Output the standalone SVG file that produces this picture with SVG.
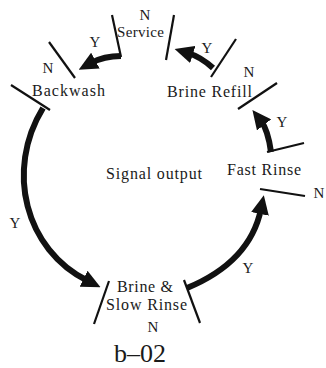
<svg xmlns="http://www.w3.org/2000/svg" width="326" height="368" viewBox="0 0 326 368">
<defs>
<style>
text{font-family:"Liberation Serif","Times New Roman",serif;fill:#1a1a1a}
.st{font-size:16px}
.lb{font-size:15px;text-anchor:middle}
.bd{stroke:#111;stroke-width:2.2;fill:none;stroke-linecap:butt}
.ar{stroke:#111;stroke-width:6;fill:none;marker-end:url(#ah)}
</style>
<marker id="ah" markerUnits="userSpaceOnUse" viewBox="0 0 19 18" refX="5" refY="9" markerWidth="19" markerHeight="18" orient="auto">
<path d="M0,0 L19,9 L0,18 z" fill="#111"/>
</marker>
</defs>
<rect width="326" height="368" fill="#fff"/>
<g id="service">
<line class="bd" x1="112" y1="15" x2="121" y2="57"/>
<line class="bd" x1="174" y1="15" x2="166" y2="60"/>
<text class="lb" x="145" y="20">N</text>
<text x="117" y="37" font-size="15" textLength="47" lengthAdjust="spacing">Service</text>
</g>
<g id="backwash">
<line class="bd" x1="49" y1="42" x2="75" y2="78"/>
<line class="bd" x1="11" y1="85" x2="50" y2="110"/>
<text class="lb" x="48" y="73">N</text>
<text class="st" x="32" y="96" textLength="73" lengthAdjust="spacing">Backwash</text>
</g>
<g id="brine-refill">
<line class="bd" x1="236" y1="39" x2="211" y2="77"/>
<line class="bd" x1="277" y1="83" x2="238" y2="109"/>
<text class="lb" x="249" y="77">N</text>
<text class="st" x="167" y="97" textLength="85" lengthAdjust="spacing">Brine Refill</text>
</g>
<g id="fast-rinse">
<line class="bd" x1="267" y1="152" x2="304" y2="143"/>
<line class="bd" x1="260" y1="189" x2="305" y2="196"/>
<text class="lb" x="319" y="198">N</text>
<text class="st" x="227" y="175" textLength="74" lengthAdjust="spacing">Fast Rinse</text>
</g>
<g id="brine-slow-rinse">
<line class="bd" x1="109" y1="281" x2="94" y2="324"/>
<line class="bd" x1="184" y1="280" x2="200" y2="323"/>
<text class="st" x="117" y="292" textLength="56" lengthAdjust="spacing">Brine &amp;</text>
<text class="st" x="106" y="310" textLength="81" lengthAdjust="spacing">Slow Rinse</text>
<text class="lb" x="153" y="332">N</text>
</g>
<g id="signal-output">
<text class="st" x="106" y="179" textLength="96" lengthAdjust="spacing">Signal output</text>
</g>
<g id="connectors">
<path class="ar" d="M121,56 Q104,56 91,63"/>
<path class="ar" d="M213,68 Q201,57 188,53"/>
<path class="ar" d="M271,152 Q268,130 261,121"/>
<path class="ar" d="M43,108 C5,170 25,250 88,281"/>
<path class="ar" d="M187,288 Q250,262 261,209"/>
<text class="lb" x="95" y="47">Y</text>
<text class="lb" x="207" y="53">Y</text>
<text class="lb" x="282" y="127">Y</text>
<text class="lb" x="15" y="228">Y</text>
<text class="lb" x="248" y="273">Y</text>
</g>
<text x="114" y="362" font-size="26">b–02</text>
</svg>
